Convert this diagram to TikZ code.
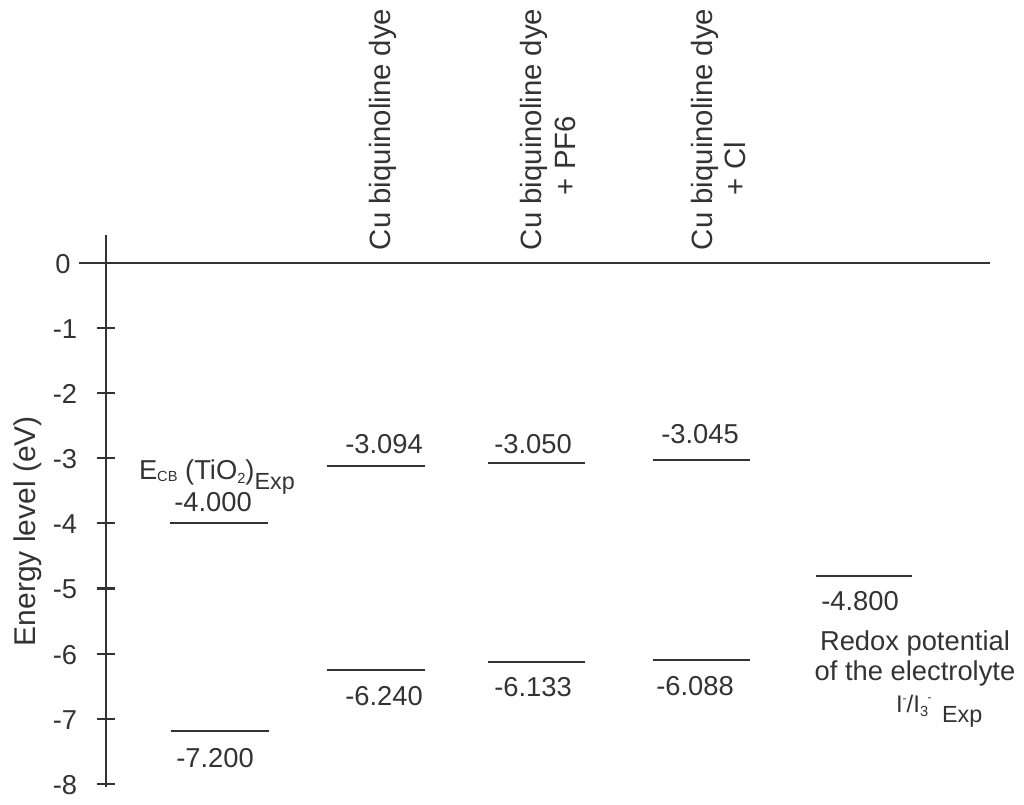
\documentclass[tikz,border=0pt]{standalone}
\usepackage{fontspec}
\setmainfont{Liberation Sans}
\definecolor{ink}{HTML}{333333}
\newcommand{\lowtxt}[2]{\raisebox{#1}{\fontsize{11}{11}\selectfont #2}}
\begin{document}
\begin{tikzpicture}[x=0.75pt,y=-0.75pt,
  every node/.style={inner sep=0pt, outer sep=0pt, text=ink},
  axisline/.style={draw=ink, line width=1.6pt},
  zeroline/.style={draw=ink, line width=2pt},
  level/.style={draw=ink, line width=1.3pt},
  ticklbl/.style={font=\fontsize{20.5}{24}\selectfont, anchor=center},
  vallbl/.style={font=\fontsize{20.5}{24}\selectfont, anchor=base},
  collbl/.style={font=\fontsize{22}{26}\selectfont, rotate=90, anchor=base west},
  txt/.style={font=\fontsize{20.5}{24}\selectfont, anchor=base}]
\useasboundingbox (0,0) rectangle (1024,804);

% axis
\coordinate (axtop) at (106,235);
\coordinate (axbot) at (106,787);
\draw[axisline] (axtop) -- (axbot);
\coordinate (z0) at (79,263);
\coordinate (z1) at (990,263);
\draw[zeroline] (z0) -- (z1);
\node[ticklbl] (t0) at (63,264) {0};
\foreach \v in {1,...,8}{
  \coordinate (ta\v) at (97,{263+65.1*\v});
  \coordinate (tb\v) at (115,{263+65.1*\v});
  \draw[axisline] (ta\v) -- (tb\v);
  \node[ticklbl] (tl\v) at (65,{264+65.1*\v}) {-\v};
}
\node[font=\fontsize{22.5}{26}\selectfont, rotate=90, anchor=base] (ylab) at (35,531) {Energy level (eV)};

% column headers
\node[collbl] (h1) at (390,250) {Cu biquinoline dye};
\node[collbl] (h2) at (541,250) {Cu biquinoline dye};
\node[collbl] (h2b) at (575,195) {+ PF6};
\node[collbl] (h3) at (712,250) {Cu biquinoline dye};
\node[collbl] (h3b) at (745,195) {+ Cl};

% TiO2
\coordinate (a1) at (170,523); \coordinate (a2) at (268,523);
\draw[level] (a1) -- (a2);
\coordinate (b1) at (171,731); \coordinate (b2) at (269,731);
\draw[level] (b1) -- (b2);
\node[vallbl] (va) at (213,511) {-4.000};
\node[vallbl] (vb) at (215,767) {-7.200};
\node[txt, anchor=base west] (ecb) at (139,479)
  {E\lowtxt{-2pt}{CB} (TiO\lowtxt{-3pt}{2})\raisebox{-8pt}{\fontsize{17.5}{20}\selectfont Exp}};

% dye
\coordinate (c1) at (327,466); \coordinate (c2) at (425,466);
\draw[level] (c1) -- (c2);
\coordinate (d1) at (327,670); \coordinate (d2) at (425,670);
\draw[level] (d1) -- (d2);
\node[vallbl] (vc) at (384,453) {-3.094};
\node[vallbl] (vd) at (384,705) {-6.240};

% dye + PF6
\coordinate (e1) at (488,463); \coordinate (e2) at (585,463);
\draw[level] (e1) -- (e2);
\coordinate (f1) at (488,662); \coordinate (f2) at (585,662);
\draw[level] (f1) -- (f2);
\node[vallbl] (ve) at (533,453) {-3.050};
\node[vallbl] (vf) at (533,696) {-6.133};

% dye + Cl
\coordinate (g1) at (653,460); \coordinate (g2) at (750,460);
\draw[level] (g1) -- (g2);
\coordinate (k1) at (653,660); \coordinate (k2) at (750,660);
\draw[level] (k1) -- (k2);
\node[vallbl] (vg) at (700,443) {-3.045};
\node[vallbl] (vk) at (695,695) {-6.088};

% redox
\coordinate (r1) at (816,576); \coordinate (r2) at (912,576);
\draw[level] (r1) -- (r2);
\node[vallbl] (vr) at (860,610) {-4.800};
\node[txt] (rd1) at (915,650) {Redox potential};
\node[txt] (rd2) at (915,680) {of the electrolyte};
\node[anchor=base west, font=\fontsize{18}{20}\selectfont] (rd3) at (896,712)
  {I\raisebox{7pt}{\fontsize{9}{9}\selectfont -}/I\lowtxt{-3pt}{3}\hspace{-0.5pt}\raisebox{8pt}{\fontsize{9}{9}\selectfont -}\hspace{8pt}\raisebox{-8pt}{\fontsize{17.5}{20}\selectfont Exp}};
\end{tikzpicture}
\end{document}
